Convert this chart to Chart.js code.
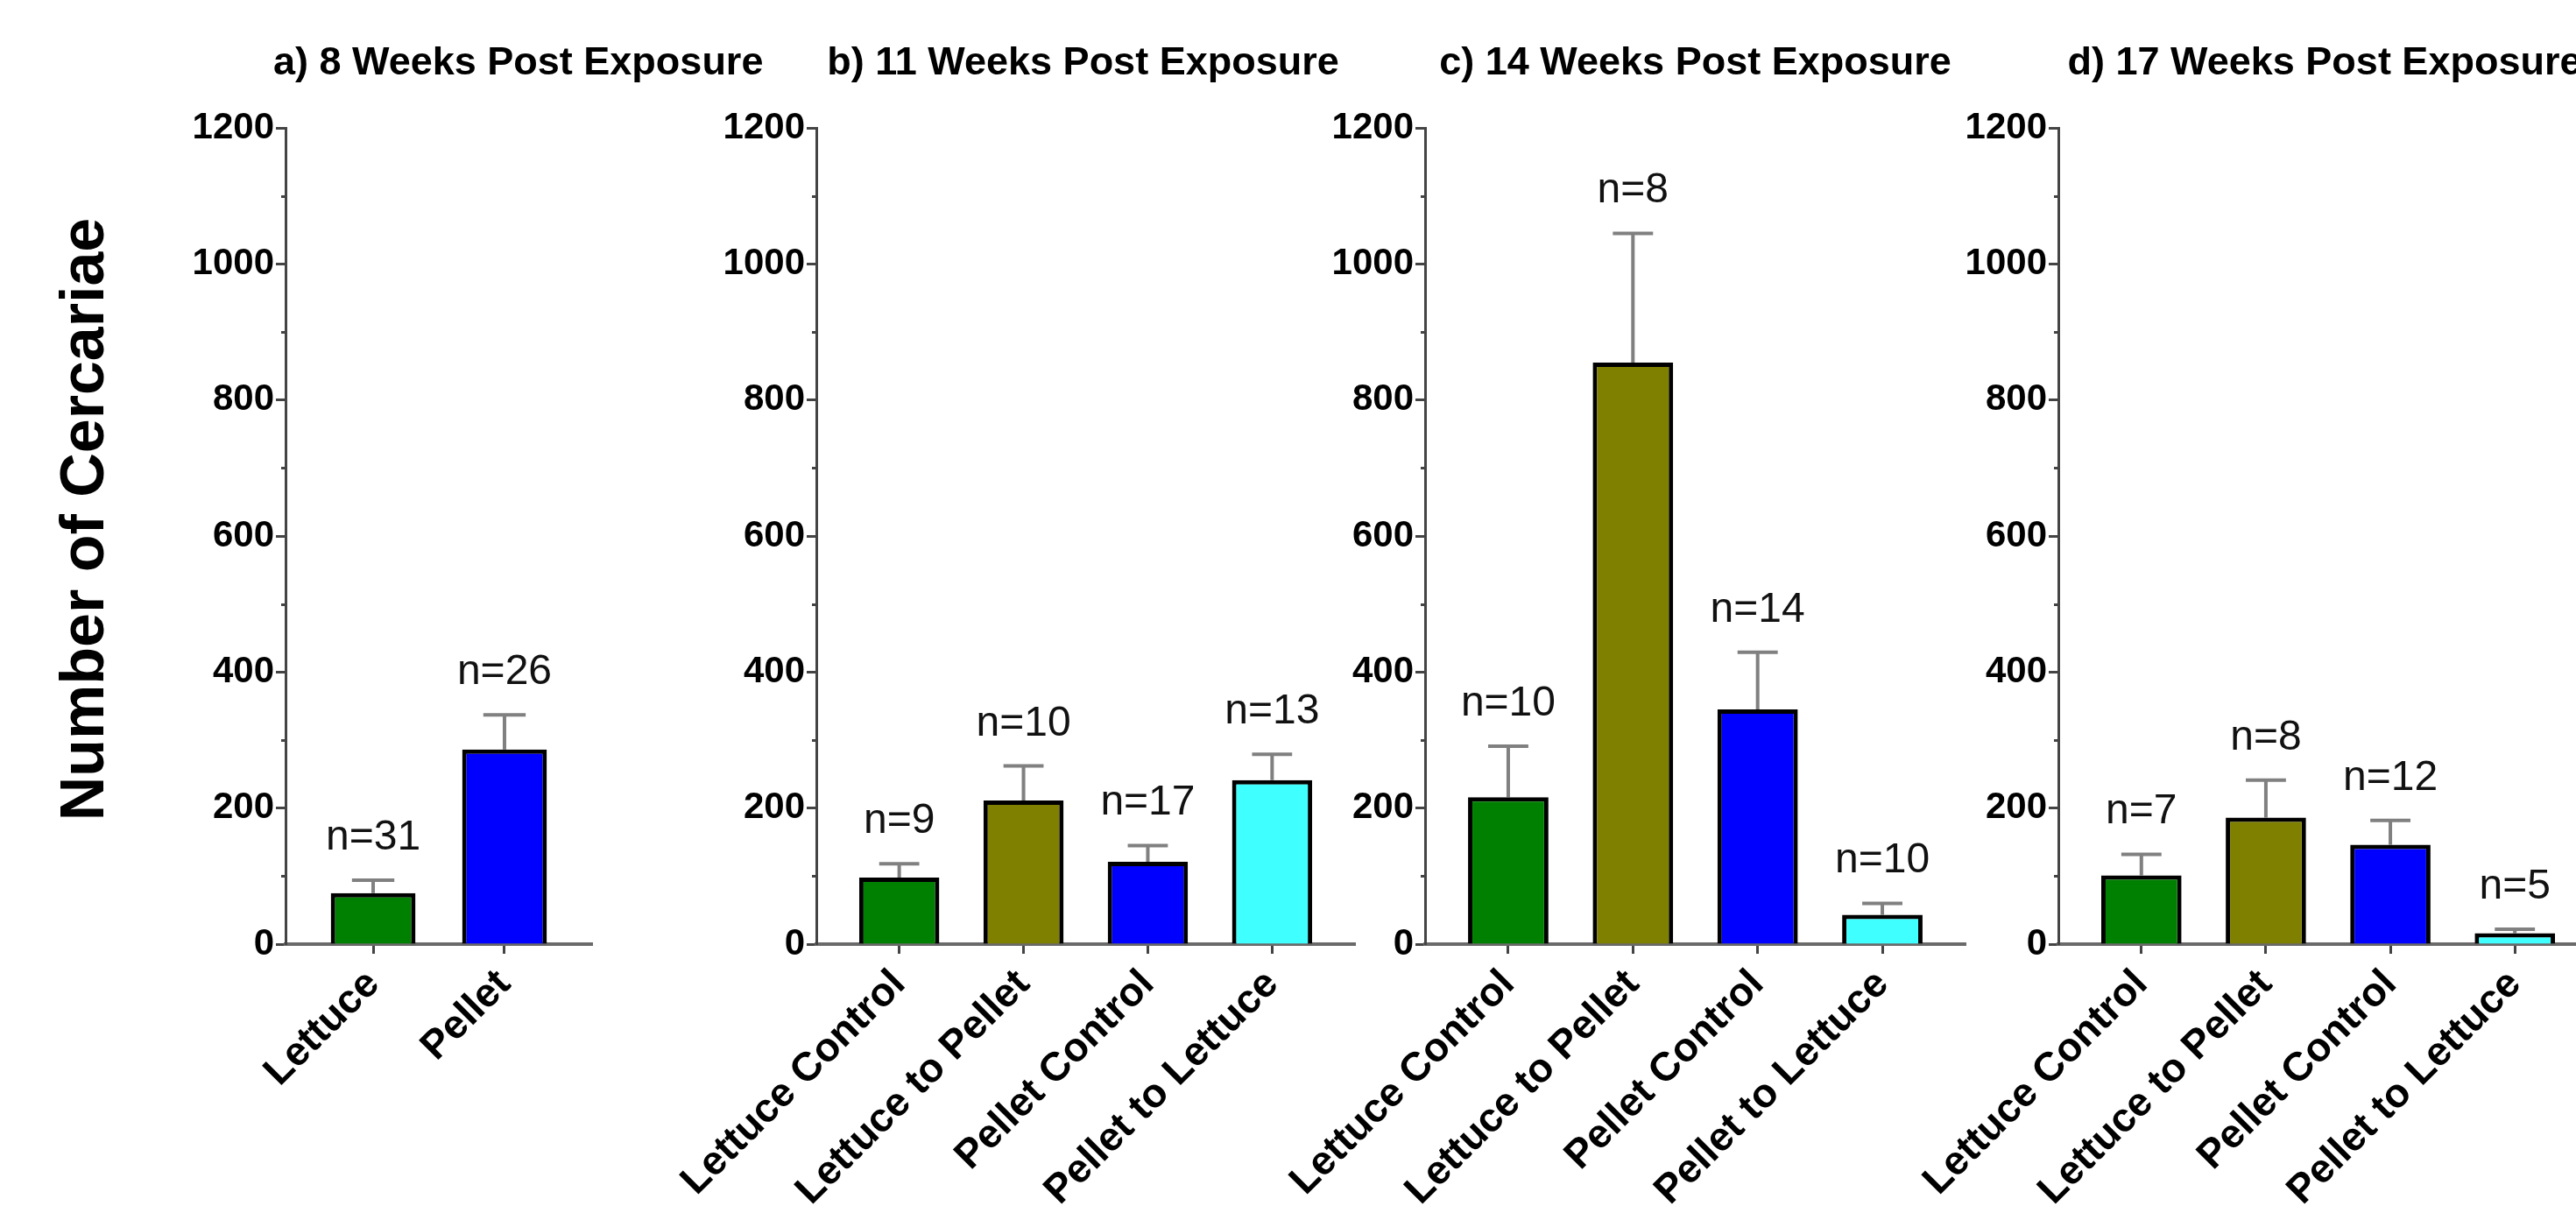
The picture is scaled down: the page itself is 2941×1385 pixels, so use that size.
<!DOCTYPE html>
<html>
<head>
<meta charset="utf-8">
<title>Number of Cercariae by diet group</title>
<script src="https://cdn.jsdelivr.net/npm/chart.js@4.4.1/dist/chart.umd.min.js"></script>
<style>
  html, body { margin: 0; padding: 0; background: #fff; }
  #stage { position: relative; width: 2941px; height: 1385px; overflow: hidden; background: #fff; }
  #stage canvas { position: absolute; top: 0; }
</style>
</head>
<body>
<div id="stage"></div>
<script>
const FONT = "'Liberation Sans', Arial, Helvetica, sans-serif";

// ---- data ----
const panelTitles = [
  'a) 8 Weeks Post Exposure',
  'b) 11 Weeks Post Exposure',
  'c) 14 Weeks Post Exposure',
  'd) 17 Weeks Post Exposure'
];
const yAxisTitle = 'Number of Cercariae';
const yMax = 1200;
const yStep = 200;

const week8Groups = ['Lettuce', 'Pellet'];
const week8Mean = [75, 286];
const week8Sem = [19, 51];
const week8N = [31, 26];

const switchGroups = ['Lettuce Control', 'Lettuce to Pellet', 'Pellet Control', 'Pellet to Lettuce'];

const week11Mean = [98, 211, 121, 241];
const week11Sem = [20, 51, 24, 38];
const week11N = [9, 10, 17, 13];

const week14Mean = [216, 855, 345, 43];
const week14Sem = [75, 190, 84, 17];
const week14N = [10, 8, 14, 10];

const week17Mean = [101, 186, 146, 16];
const week17Sem = [31, 55, 36, 6];
const week17N = [7, 8, 12, 5];

// ---- styles ----
const week8Colors = ['#008000', '#0000ff'];
const switchColors = ['#008000', '#808000', '#0000ff', '#40ffff'];

const panels = [
  { title: panelTitles[0], groups: week8Groups, mean: week8Mean, sem: week8Sem, n: week8N, colors: week8Colors },
  { title: panelTitles[1], groups: switchGroups, mean: week11Mean, sem: week11Sem, n: week11N, colors: switchColors },
  { title: panelTitles[2], groups: switchGroups, mean: week14Mean, sem: week14Sem, n: week14N, colors: switchColors },
  { title: panelTitles[3], groups: switchGroups, mean: week17Mean, sem: week17Sem, n: week17N, colors: switchColors }
];

// ---- layout (page pixels) ----
const CANVAS_H = 1385;
const PLOT_TOP = 146;
const PLOT_BOTTOM = 1078;
const Y_AXIS_W = 125;
const EDGE = 0.667;          // empty space before first / after last bar, in category units

const frames = [
  { left: 0,    width: 1100, axisX: 326,  plotRight: 676,  titleAlign: 'start',  titleDx: -14, yTitle: true },
  { left: 700,  width: 1100, axisX: 932,  plotRight: 1547, titleAlign: 'center', titleDx: -3 },
  { left: 1400, width: 1100, axisX: 1627, plotRight: 2244, titleAlign: 'center', titleDx: 0 },
  { left: 2100, width: 1100, axisX: 2350, plotRight: 2966, titleAlign: 'center', titleDx: -4 }
];

// SEM whiskers (drawn under the bars so the bar outline covers the stem base) and n labels
const errorBars = {
  id: 'errorBars',
  beforeDatasetsDraw(chart, args, opts) {
    const { ctx } = chart;
    const y = chart.scales.y;
    const ds = chart.data.datasets[0];
    const meta = chart.getDatasetMeta(0);
    ctx.save();
    ctx.strokeStyle = opts.color;
    ctx.lineWidth = opts.width;
    meta.data.forEach((bar, i) => {
      const top = y.getPixelForValue(ds.data[i].y + ds.sem[i]);
      const half = bar.width * opts.capRatio / 2;
      ctx.beginPath();
      ctx.moveTo(bar.x, bar.y);
      ctx.lineTo(bar.x, top);
      ctx.moveTo(bar.x - half, top);
      ctx.lineTo(bar.x + half, top);
      ctx.stroke();
    });
    ctx.restore();
  },
  afterDatasetsDraw(chart, args, opts) {
    const { ctx } = chart;
    const y = chart.scales.y;
    const ds = chart.data.datasets[0];
    const meta = chart.getDatasetMeta(0);
    ctx.save();
    ctx.fillStyle = opts.labelColor;
    ctx.font = `${opts.labelSize}px ${FONT}`;
    ctx.textAlign = 'center';
    ctx.textBaseline = 'alphabetic';
    meta.data.forEach((bar, i) => {
      const top = y.getPixelForValue(ds.data[i].y + ds.sem[i]);
      ctx.fillText('n=' + ds.counts[i], bar.x, top - opts.labelGap);
    });
    ctx.restore();
  }
};

// short minor ticks halfway between the labelled y ticks
const minorTicks = {
  id: 'minorTicks',
  afterDraw(chart, args, opts) {
    const y = chart.scales.y;
    const { ctx, chartArea } = chart;
    ctx.save();
    ctx.strokeStyle = opts.color;
    ctx.lineWidth = opts.width;
    ctx.beginPath();
    for (let i = 0; i < y.ticks.length - 1; i++) {
      const mid = (y.ticks[i].value + y.ticks[i + 1].value) / 2;
      const py = Math.round(y.getPixelForValue(mid)) + 0.5;
      ctx.moveTo(chartArea.left - opts.length, py);
      ctx.lineTo(chartArea.left, py);
    }
    ctx.stroke();
    ctx.restore();
  }
};

// panel heading above the plot area
const panelTitle = {
  id: 'panelTitle',
  afterDraw(chart, args, opts) {
    const { ctx, chartArea } = chart;
    ctx.save();
    ctx.fillStyle = '#000';
    ctx.font = `bold ${opts.size}px ${FONT}`;
    ctx.textBaseline = 'alphabetic';
    let x;
    if (opts.align === 'start') {
      ctx.textAlign = 'left';
      x = chartArea.left + opts.dx;
    } else {
      ctx.textAlign = 'center';
      x = (chartArea.left + chartArea.right) / 2 + opts.dx;
    }
    ctx.fillText(opts.text, x, chartArea.top - opts.rise);
    ctx.restore();
  }
};

// shared vertical axis title, drawn beside the first panel
const sideTitle = {
  id: 'sideTitle',
  afterDraw(chart, args, opts) {
    if (!opts.text) return;
    const { ctx, chartArea } = chart;
    ctx.save();
    ctx.translate(chartArea.left + opts.dx, (chartArea.top + chartArea.bottom) / 2 + opts.dy);
    ctx.rotate(-Math.PI / 2);
    ctx.fillStyle = '#000';
    ctx.font = `bold ${opts.size}px ${FONT}`;
    ctx.textAlign = 'center';
    ctx.textBaseline = 'alphabetic';
    ctx.fillText(opts.text, 0, 0);
    ctx.restore();
  }
};

const stage = document.getElementById('stage');

panels.forEach((p, k) => {
  const f = frames[k];
  const canvas = document.createElement('canvas');
  canvas.width = f.width;
  canvas.height = CANVAS_H;
  canvas.style.left = f.left + 'px';
  canvas.style.width = f.width + 'px';
  canvas.style.height = CANVAS_H + 'px';
  stage.appendChild(canvas);

  const padLeft = f.axisX - f.left - Y_AXIS_W;
  const padRight = f.left + f.width - f.plotRight;

  new Chart(canvas, {
    type: 'bar',
    data: {
      datasets: [{
        data: p.mean.map((v, i) => ({ x: i, y: v })),
        sem: p.sem,
        counts: p.n,
        backgroundColor: p.colors,
        borderColor: '#000',
        borderWidth: 5,
        borderSkipped: 'start',
        categoryPercentage: 1,
        barPercentage: 0.645
      }]
    },
    options: {
      responsive: false,
      animation: false,
      devicePixelRatio: 1,
      events: [],
      layout: { padding: { left: padLeft, right: padRight, top: PLOT_TOP, bottom: 0 } },
      scales: {
        x: {
          type: 'linear',
          offset: false,
          bounds: 'data',
          min: -EDGE,
          max: p.groups.length - 1 + EDGE,
          afterBuildTicks: s => { s.ticks = p.groups.map((g, i) => ({ value: i })); },
          afterFit: s => { s.height = CANVAS_H - PLOT_BOTTOM; s.paddingLeft = 0; s.paddingRight = 0; },
          grid: { display: true, drawOnChartArea: false, drawTicks: true, offset: false,
                  tickLength: 11, tickWidth: 3, tickColor: '#444' },
          border: { display: true, color: '#6a6a6a', width: 4 },
          ticks: {
            autoSkip: false, minRotation: 45, maxRotation: 45, padding: 8,
            color: '#000', font: { family: FONT, size: 46, weight: 'bold' },
            callback: v => p.groups[v]
          }
        },
        y: {
          min: 0,
          max: yMax,
          afterFit: s => { s.width = Y_AXIS_W; },
          grid: { display: true, drawOnChartArea: false, drawTicks: true,
                  tickLength: 11, tickWidth: 3, tickColor: '#444' },
          border: { display: true, color: '#444', width: 3 },
          ticks: {
            stepSize: yStep, padding: 2, color: '#000',
            font: { family: FONT, size: 42, weight: 'bold' },
            callback: v => String(v)
          }
        }
      },
      plugins: {
        legend: { display: false },
        tooltip: { enabled: false },
        title: { display: false },
        errorBars: { color: '#808080', width: 4, capRatio: 0.5,
                     labelColor: '#111', labelSize: 48, labelGap: 35 },
        minorTicks: { color: '#444', width: 3, length: 5 },
        panelTitle: { text: p.title, size: 45, align: f.titleAlign, dx: f.titleDx, rise: 61 },
        sideTitle: f.yTitle ? { text: yAxisTitle, size: 70, dx: -208, dy: -19 } : { text: '' }
      }
    },
    plugins: [errorBars, minorTicks, panelTitle, sideTitle]
  });
});
</script>
</body>
</html>
